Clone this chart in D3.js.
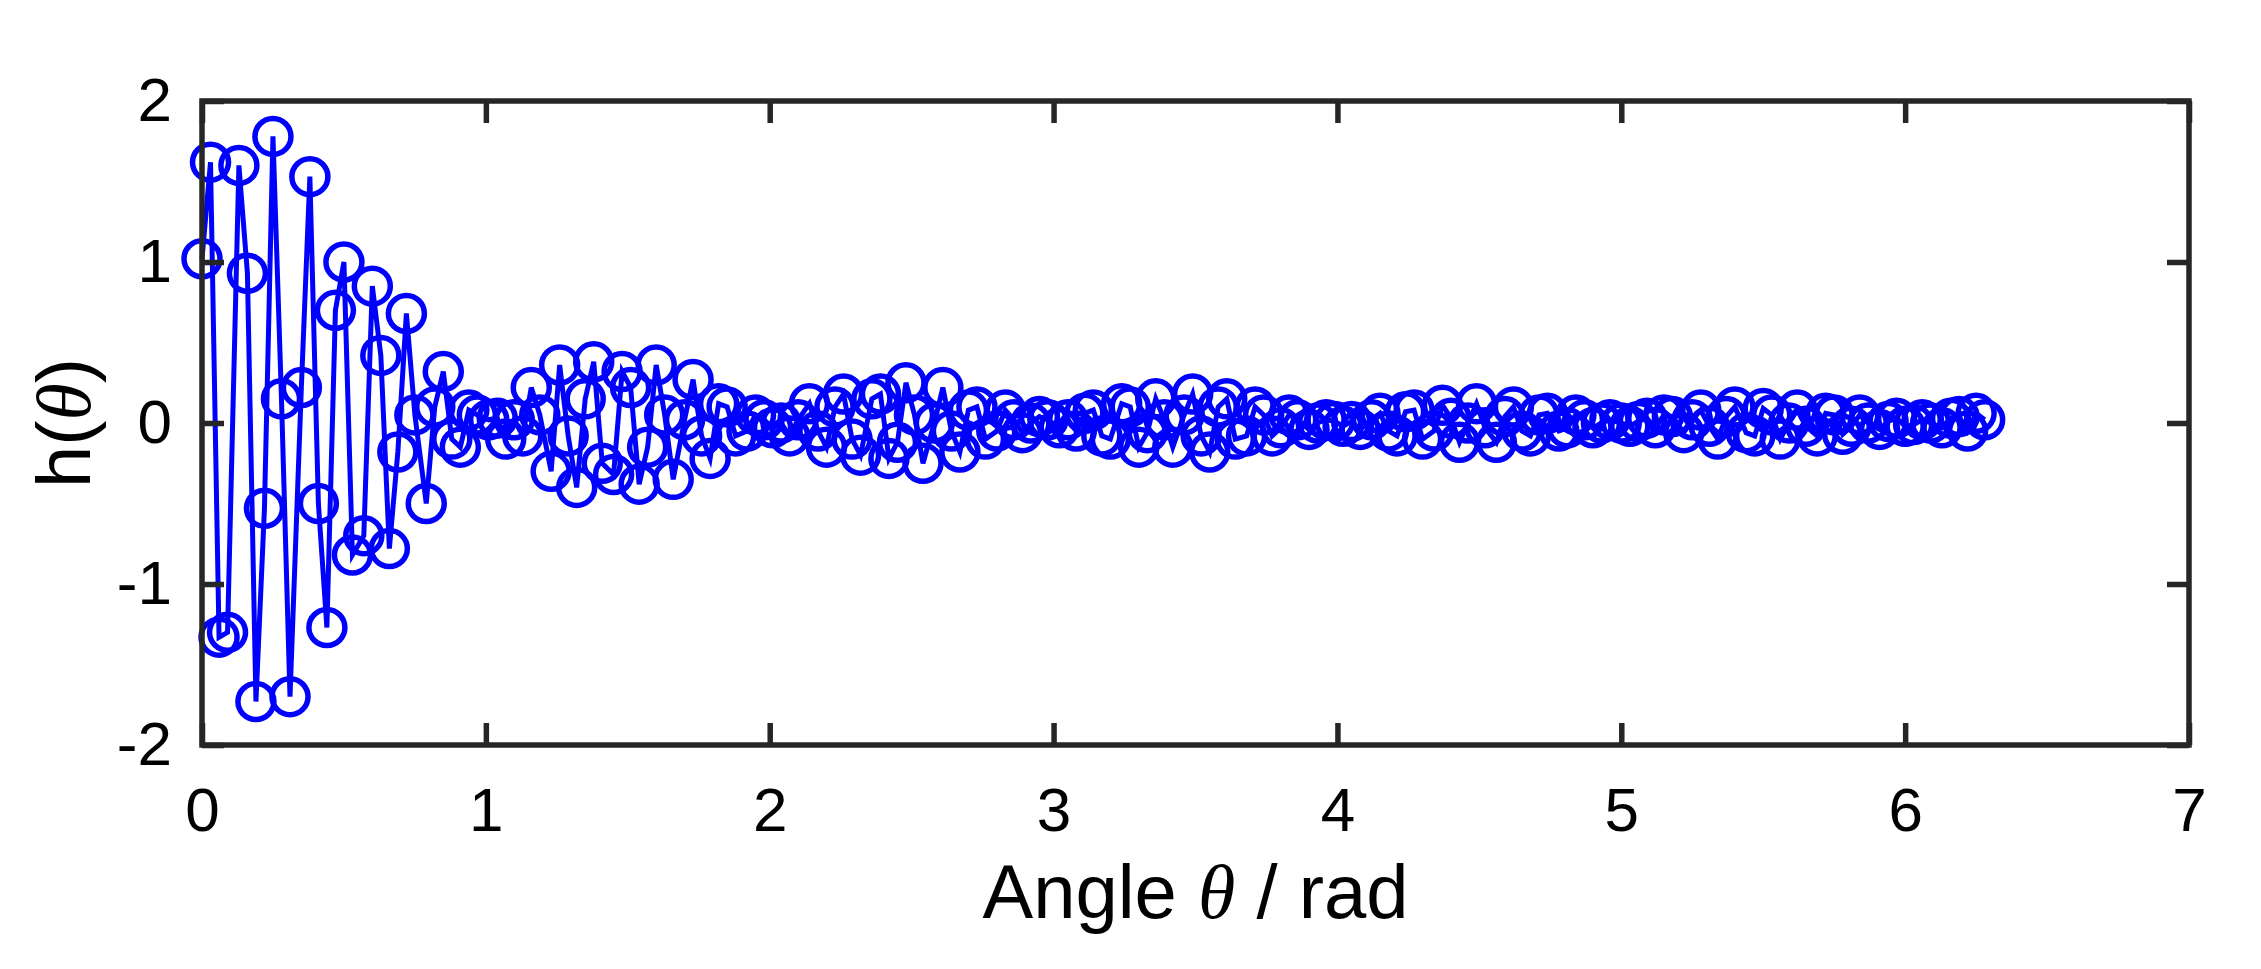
<!DOCTYPE html>
<html>
<head>
<meta charset="utf-8">
<script src="https://cdn.jsdelivr.net/npm/d3@7"></script>
<style>
  html, body { margin: 0; padding: 0; background: #fff; }
  text { font-family: Arial, "Liberation Sans", sans-serif; }
</style>
</head>
<body>
<svg id="chart" width="2261" height="969"></svg>
<script>
// sampled angles (rad)
const theta = [
  0.00, 0.03, 0.06, 0.09, 0.13, 0.16, 0.19, 0.22, 0.25, 0.28, 0.31, 0.35, 0.38, 0.41, 0.44, 0.47, 0.50, 0.53, 0.57, 0.60,
  0.63, 0.66, 0.69, 0.72, 0.75, 0.79, 0.82, 0.85, 0.88, 0.91, 0.94, 0.97, 1.01, 1.04, 1.07, 1.10, 1.13, 1.16, 1.19, 1.23,
  1.26, 1.29, 1.32, 1.35, 1.38, 1.41, 1.45, 1.48, 1.51, 1.54, 1.57, 1.60, 1.63, 1.66, 1.70, 1.73, 1.76, 1.79, 1.82, 1.85,
  1.88, 1.92, 1.95, 1.98, 2.01, 2.04, 2.07, 2.10, 2.14, 2.17, 2.20, 2.23, 2.26, 2.29, 2.32, 2.36, 2.39, 2.42, 2.45, 2.48,
  2.51, 2.54, 2.58, 2.61, 2.64, 2.67, 2.70, 2.73, 2.76, 2.80, 2.83, 2.86, 2.89, 2.92, 2.95, 2.98, 3.02, 3.05, 3.08, 3.11,
  3.14, 3.17, 3.20, 3.24, 3.27, 3.30, 3.33, 3.36, 3.39, 3.42, 3.46, 3.49, 3.52, 3.55, 3.58, 3.61, 3.64, 3.68, 3.71, 3.74,
  3.77, 3.80, 3.83, 3.86, 3.90, 3.93, 3.96, 3.99, 4.02, 4.05, 4.08, 4.12, 4.15, 4.18, 4.21, 4.24, 4.27, 4.30, 4.34, 4.37,
  4.40, 4.43, 4.46, 4.49, 4.52, 4.56, 4.59, 4.62, 4.65, 4.68, 4.71, 4.74, 4.78, 4.81, 4.84, 4.87, 4.90, 4.93, 4.96, 5.00,
  5.03, 5.06, 5.09, 5.12, 5.15, 5.18, 5.22, 5.25, 5.28, 5.31, 5.34, 5.37, 5.40, 5.44, 5.47, 5.50, 5.53, 5.56, 5.59, 5.62,
  5.65, 5.69, 5.72, 5.75, 5.78, 5.81, 5.84, 5.87, 5.91, 5.94, 5.97, 6.00, 6.03, 6.06, 6.09, 6.13, 6.16, 6.19, 6.22, 6.25,
  6.28
]

// h(theta)
const hValues = [
  1.02, 1.62, -1.33, -1.30, 1.60, 0.93, -1.73, -0.53, 1.78, 0.15, -1.70, 0.22, 1.53, -0.50, -1.27, 0.70, 1.00, -0.82, -0.70, 0.85,
  0.42, -0.78, -0.18, 0.68, 0.05, -0.50, 0.10, 0.32, -0.10, -0.15, 0.08, 0.05, 0.02, 0.03, -0.10, 0.02, -0.08, 0.22, 0.05, -0.30,
  0.36, -0.08, -0.40, 0.15, 0.38, -0.25, -0.32, 0.32, 0.22, -0.38, -0.15, 0.36, 0.05, -0.35, 0.02, 0.27, -0.08, -0.22, 0.12, 0.10,
  -0.08, -0.05, 0.05, 0.02, -0.03, 0.00, -0.08, 0.02, 0.12, -0.05, -0.15, 0.10, 0.18, -0.10, -0.20, 0.15, 0.18, -0.22, -0.12, 0.25,
  0.05, -0.25, 0.00, 0.22, -0.05, -0.18, 0.08, 0.10, -0.10, -0.05, 0.08, 0.02, -0.06, 0.00, 0.04, 0.02, -0.03, 0.02, -0.05, 0.06,
  0.08, -0.08, -0.10, 0.12, 0.10, -0.15, -0.06, 0.15, 0.02, -0.15, 0.05, 0.18, -0.08, -0.18, 0.10, 0.15, -0.10, -0.08, 0.10, 0.05,
  -0.08, -0.03, 0.05, 0.02, -0.04, 0.00, 0.02, 0.01, -0.02, 0.01, -0.04, 0.02, 0.06, -0.05, -0.08, 0.07, 0.08, -0.10, -0.05, 0.11,
  0.03, -0.12, 0.00, 0.12, -0.03, -0.12, 0.04, 0.10, -0.05, -0.08, 0.05, 0.06, -0.05, -0.03, 0.05, 0.02, -0.03, 0.00, 0.02, 0.00,
  -0.02, 0.01, 0.03, -0.03, 0.05, 0.04, -0.06, 0.02, 0.08, -0.02, -0.10, 0.04, 0.10, -0.06, -0.08, 0.09, 0.05, -0.10, 0.00, 0.08,
  -0.02, -0.08, 0.06, 0.05, -0.07, -0.02, 0.05, 0.00, -0.04, 0.01, 0.03, -0.02, -0.01, 0.02, 0.00, -0.03, 0.03, 0.04, -0.05, 0.06,
  0.02
]

const xTicks = [0, 1, 2, 3, 4, 5, 6, 7]
const yTicks = [-2, -1, 0, 1, 2]

let margin = {left: 202, right: 72, top: 101, bottom: 224}
let w = 2261 - margin.left - margin.right
let h = 969 - margin.top - margin.bottom
let frameColor = '#262626'
let blue = '#0000ff'

let svg = d3.select('#chart')
let g = svg.append('g').attr('transform', 'translate(' + margin.left + ',' + margin.top + ')')

let x = d3.scaleLinear().domain([0, 7]).range([0, w])
let y = d3.scaleLinear().domain([-2, 2]).range([h, 0])

let data = theta.map((t, i) => [t, hValues[i]])

// line + circle markers
g.append('path')
    .datum(data)
    .attr('fill', 'none')
    .attr('stroke', blue)
    .attr('stroke-width', 5)
    .attr('stroke-linejoin', 'miter')
    .attr('d', d3.line().x(d => x(d[0])).y(d => y(d[1])))

g.selectAll('circle.pt')
    .data(data)
  .enter().append('circle')
    .attr('class', 'pt')
    .attr('cx', d => x(d[0]))
    .attr('cy', d => y(d[1]))
    .attr('r', 18)
    .attr('fill', 'none')
    .attr('stroke', blue)
    .attr('stroke-width', 5.5)

// box with inward ticks on all sides
let tickLen = 22
let axisStyle = sel => {
  sel.select('.domain').remove()
  sel.selectAll('line').attr('stroke', frameColor).attr('stroke-width', 5.5)
  sel.selectAll('text').attr('fill', '#000').attr('font-size', 62)
}

g.append('g').attr('transform', 'translate(0,' + h + ')')
    .call(d3.axisBottom(x).tickValues(xTicks).tickFormat(d3.format('d')).tickSizeInner(-tickLen).tickPadding(42))
    .call(axisStyle)
g.append('g')
    .call(d3.axisTop(x).tickValues(xTicks).tickFormat('').tickSizeInner(-tickLen))
    .call(axisStyle)
g.append('g')
    .call(d3.axisLeft(y).tickValues(yTicks).tickFormat(d => d < 0 ? '-' + Math.abs(d) : d).tickSizeInner(-tickLen).tickPadding(30))
    .call(axisStyle)
g.append('g').attr('transform', 'translate(' + w + ',0)')
    .call(d3.axisRight(y).tickValues(yTicks).tickFormat('').tickSizeInner(-tickLen))
    .call(axisStyle)

g.append('rect')
    .attr('width', w).attr('height', h)
    .attr('fill', 'none')
    .attr('stroke', frameColor)
    .attr('stroke-width', 5.5)

// axis titles
let xt = svg.append('text')
    .attr('x', margin.left + w / 2)
    .attr('y', 918)
    .attr('text-anchor', 'middle')
    .attr('font-size', 76)
xt.append('tspan').text('Angle ')
xt.append('tspan').attr('font-family', '"Times New Roman", "Liberation Serif", serif').attr('font-style', 'italic').text('θ')
xt.append('tspan').text(' / rad')

let yt = svg.append('text')
    .attr('transform', 'translate(90,' + (margin.top + h / 2) + ') rotate(-90)')
    .attr('text-anchor', 'middle')
    .attr('font-size', 76)
yt.append('tspan').text('h(')
yt.append('tspan').attr('font-family', '"Times New Roman", "Liberation Serif", serif').attr('font-style', 'italic').text('θ')
yt.append('tspan').text(')')
</script>
</body>
</html>
